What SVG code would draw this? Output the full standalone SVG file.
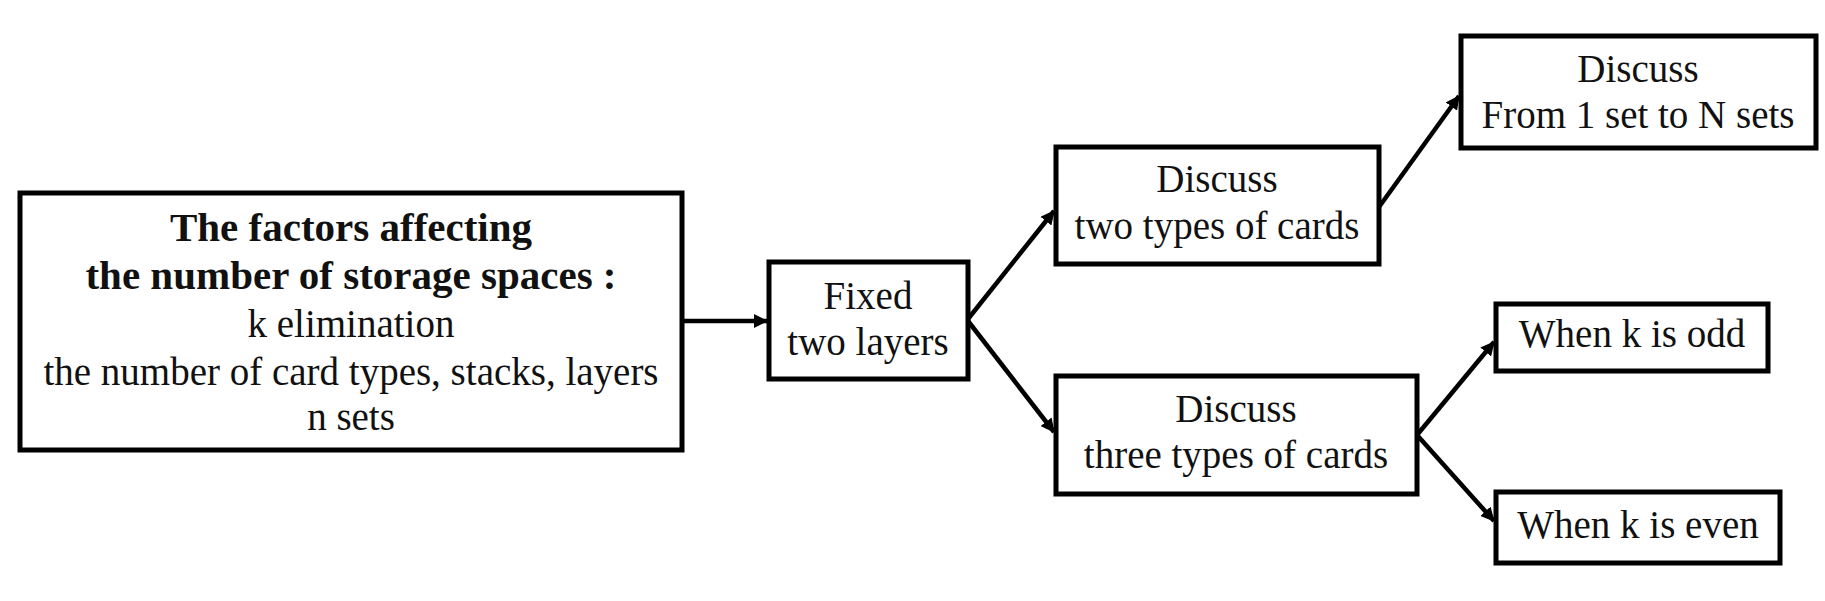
<svg xmlns="http://www.w3.org/2000/svg" width="1825" height="601" viewBox="0 0 1825 601">
<style>
.box{fill:#fff;stroke:#000;stroke-width:5}
.t{font-family:"Liberation Serif","Times New Roman",serif;font-size:39px;fill:#111;text-anchor:middle}
.b{font-weight:bold;font-size:41px}
.c{stroke:#000;stroke-width:4.5;fill:none}
</style>
<defs>
<marker id="ah" viewBox="0 0 14 14" refX="13" refY="7" markerWidth="14" markerHeight="14" orient="auto" markerUnits="userSpaceOnUse">
<path d="M0,0 L14,7 L0,14 z" fill="#000"/>
</marker>
</defs>
<rect width="1825" height="601" fill="#fff"/>
<g id="connectors">
<line class="c" x1="682" y1="321" x2="767" y2="321" marker-end="url(#ah)"/>
<line class="c" x1="968" y1="319" x2="1054" y2="211" marker-end="url(#ah)"/>
<line class="c" x1="968" y1="321" x2="1054" y2="432" marker-end="url(#ah)"/>
<line class="c" x1="1379" y1="207" x2="1459" y2="96" marker-end="url(#ah)"/>
<line class="c" x1="1417" y1="435" x2="1494" y2="342" marker-end="url(#ah)"/>
<line class="c" x1="1417" y1="435" x2="1494" y2="521" marker-end="url(#ah)"/>
</g>
<g id="main">
<rect class="box" x="20" y="193" width="662" height="257"/>
<text class="t b" x="351" y="241">The factors affecting</text>
<text class="t b" x="351" y="289">the number of storage spaces :</text>
<text class="t" x="351" y="337">k elimination</text>
<text class="t" x="351" y="385">the number of card types, stacks, layers</text>
<text class="t" x="351" y="430">n sets</text>
</g>
<g id="fixed">
<rect class="box" x="769" y="262" width="199" height="117"/>
<text class="t" x="868" y="309">Fixed</text>
<text class="t" x="868" y="355">two layers</text>
</g>
<g id="two-types">
<rect class="box" x="1056" y="147" width="323" height="117"/>
<text class="t" x="1217" y="192">Discuss</text>
<text class="t" x="1217" y="239">two types of cards</text>
</g>
<g id="three-types">
<rect class="box" x="1056" y="376" width="361" height="118"/>
<text class="t" x="1236" y="422">Discuss</text>
<text class="t" x="1236" y="468">three types of cards</text>
</g>
<g id="sets">
<rect class="box" x="1461" y="36" width="355" height="112"/>
<text class="t" x="1638" y="82">Discuss</text>
<text class="t" x="1638" y="128">From 1 set to N sets</text>
</g>
<g id="odd">
<rect class="box" x="1496" y="304" width="272" height="67"/>
<text class="t" x="1632" y="347">When k is odd</text>
</g>
<g id="even">
<rect class="box" x="1496" y="492" width="284" height="71"/>
<text class="t" x="1638" y="538">When k is even</text>
</g>
</svg>
